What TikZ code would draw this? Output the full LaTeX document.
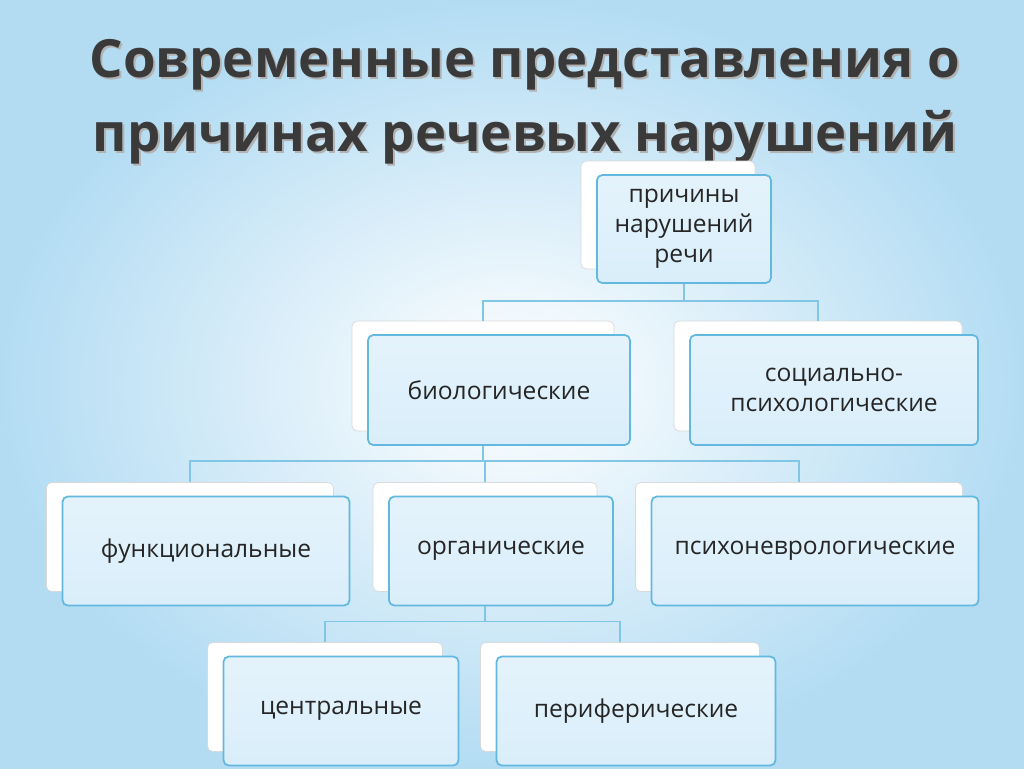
\documentclass[tikz,border=0pt]{standalone}
\usepackage{fontspec}
\setmainfont{Open Sans}
\usetikzlibrary{positioning}
\definecolor{bgblue}{HTML}{B3DCF3}
\definecolor{boxline}{HTML}{62B8DE}
\definecolor{boxfill}{HTML}{D9EEFA}
\definecolor{titlegray}{HTML}{3A3A3A}
\tikzset{
  front/.style={draw=boxline,line width=1pt,rounded corners=3pt,top color=boxfill!70!white,bottom color=boxfill,
    align=center,font=\fontsize{14}{17}\selectfont,text=black!85,inner sep=2pt},
  back/.style={draw=black!15,fill=white,rounded corners=3pt,inner sep=0pt},
  link/.style={draw=boxline!80,line width=0.8pt}
}
\newcommand{\pbox}[6]{% name, x, y, width, height, text
  \node[back,minimum width=#4*0.02cm,minimum height=#5*0.02cm] (#1b) at (#2-16,#3-14) {};
  \node[front,minimum width=#4*0.02cm,minimum height=#5*0.02cm,text width=#4*0.02cm-8pt] (#1) at (#2,#3) {#6};
}
\begin{document}
\begin{tikzpicture}[x=0.02cm,y=-0.02cm]
\shade[inner color=white,outer color=bgblue] (0,0) rectangle (1024,768);
\useasboundingbox (0,0) rectangle (1024,768);
% title
\node[text=black!30,font=\bfseries\fontsize{30}{42}\selectfont,align=center] (titleshadow) at (527,104) {Современные представления о\\причинах речевых нарушений};
\node[text=titlegray,font=\bfseries\fontsize{30}{42}\selectfont,align=center] (title) at (525,102) {Современные представления о\\причинах речевых нарушений};
% boxes
\pbox{root}{684}{229}{174}{108}{причины нарушений речи}
\pbox{bio}{499}{390}{262}{110}{биологические}
\pbox{soc}{834}{390}{288}{110}{социально-\\психологические}
\pbox{func}{206}{551}{287}{109}{функциональные}
\pbox{org}{501}{551}{224}{109}{органические}
\pbox{psy}{815}{551}{327}{109}{психоневрологические}
\pbox{cen}{341}{711}{235}{109}{центральные}
\pbox{per}{636}{711}{279}{109}{периферические}
% connectors
\draw[link] (root.south) -- ++(0,17) coordinate (rootj);
\draw[link] (rootj) -| (biob.north);
\draw[link] (rootj) -| (socb.north);
\draw[link] (bio.south -| biob) -- ++(0,15) coordinate (bioj);
\draw[link] (bioj) -| (funcb.north);
\draw[link] (bioj) -| (orgb.north);
\draw[link] (bioj) -| (psyb.north);
\draw[link] (org.south -| orgb) -- ++(0,15) coordinate (orgj);
\draw[link] (orgj) -| (cenb.north);
\draw[link] (orgj) -| (perb.north);
\end{tikzpicture}
\end{document}
